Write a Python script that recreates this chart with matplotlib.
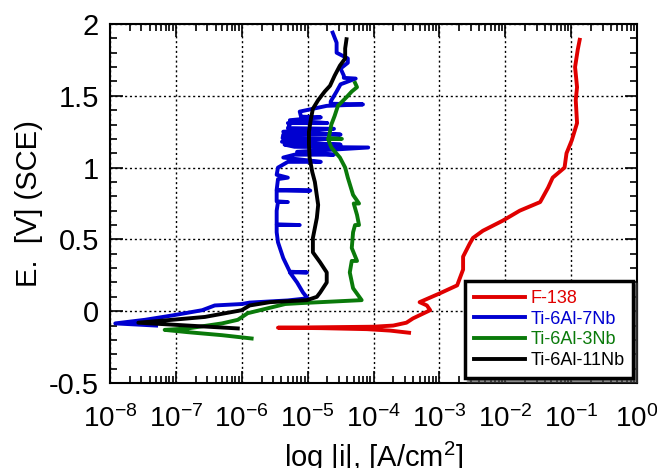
import numpy as np
import matplotlib
matplotlib.use("Agg")
import matplotlib.pyplot as plt
from matplotlib.ticker import LogLocator, MultipleLocator, NullFormatter

plt.rcParams["font.family"] = ["Liberation Sans", "DejaVu Sans"]
plt.rcParams["mathtext.fontset"] = "custom"
plt.rcParams["mathtext.rm"] = "Liberation Sans"
plt.rcParams["mathtext.it"] = "Liberation Sans"

# potential E [V vs SCE] and log10 |i| [A/cm2]
f138_E = [-0.15, -0.135, -0.125, -0.118, -0.115, -0.112, -0.108, -0.10, -0.08, -0.05,
          0.007, 0.04, 0.063, 0.125, 0.18, 0.29, 0.38, 0.47, 0.51, 0.56, 0.63, 0.70,
          0.76, 0.86, 0.93, 1.0, 1.10, 1.19, 1.31, 1.47, 1.56, 1.70, 1.82, 1.89]
f138_logi = [-3.46, -3.75, -4.1, -4.8, -5.45, -4.8, -4.0, -3.7, -3.5, -3.40,
             -3.14, -3.19, -3.30, -2.99, -2.73, -2.64, -2.64, -2.54, -2.49, -2.34, -2.04, -1.78,
             -1.47, -1.35, -1.28, -1.10, -1.07, -0.99, -0.91, -0.93, -0.91, -0.94, -0.90, -0.87]

ti7_E = [-0.10, -0.085, -0.06, -0.03, 0.007, 0.04, 0.05, 0.06, 0.075, 0.09,
         0.13, 0.20, 0.27, 0.27, 0.275, 0.37, 0.48, 0.55, 0.60, 0.60, 0.605, 0.70,
         0.76, 0.76, 0.765, 0.84, 0.84, 0.845, 0.92, 0.93, 0.95, 1.0, 1.04, 1.04,
         1.07, 1.09, 1.09, 1.11, 1.14, 1.145, 1.16, 1.16, 1.18, 1.2, 1.205, 1.23,
         1.23, 1.25, 1.27, 1.275, 1.3, 1.31, 1.31, 1.33, 1.35, 1.355, 1.39, 1.43,
         1.44, 1.445, 1.46, 1.53, 1.58, 1.62, 1.625, 1.64, 1.69, 1.73, 1.76, 1.80,
         1.87, 1.94]
ti7_logi = [-7.3, -7.92, -7.47, -7.06, -6.6, -6.41, -6.0, -5.88, -5.3, -5.0,
            -5.07, -5.16, -5.27, -5.01, -5.27, -5.37, -5.45, -5.47, -5.47, -5.12, -5.47, -5.47,
            -5.45, -5.3, -5.47, -5.47, -4.96, -5.47, -5.45, -5.3, -5.47, -5.45, -5.3, -4.8,
            -5.37, -5.2, -4.6, -5.16, -4.08, -5.2, -5.35, -4.5, -5.39, -4.7, -5.38, -5.37,
            -4.5, -5.37, -4.6, -5.3, -5.27, -5.3, -4.7, -5.27, -4.8, -5.1, -5.12, -4.71,
            -4.16, -4.65, -4.65, -4.56, -4.5, -4.27, -4.45, -4.45, -4.5, -4.39, -4.39, -4.56,
            -4.56, -4.62]

ti3_E = [-0.19, -0.167, -0.146, -0.13, -0.12, -0.085, -0.06, -0.014, 0.05, 0.056,
         0.077, 0.16, 0.27, 0.35, 0.35, 0.44, 0.55, 0.60, 0.60, 0.67, 0.75, 0.75,
         0.81, 0.93, 1.0, 1.07, 1.14, 1.20, 1.20, 1.205, 1.30, 1.36, 1.43, 1.49,
         1.53, 1.56, 1.59]
ti3_logi = [-5.85, -6.3, -6.82, -7.17, -6.82, -6.3, -6.06, -5.91, -5.34, -5.12,
            -4.18, -4.31, -4.36, -4.33, -4.25, -4.33, -4.31, -4.28, -4.22, -4.25, -4.3, -4.22,
            -4.31, -4.39, -4.43, -4.51, -4.64, -4.69, -4.48, -4.68, -4.64, -4.59, -4.54, -4.41,
            -4.33, -4.25, -4.28]

ti11_E = [-0.12, -0.08, -0.06, -0.04, 0.007, 0.04, 0.063, 0.077, 0.10, 0.13,
          0.20, 0.27, 0.34, 0.41, 0.51, 0.65, 0.74, 0.90, 0.97, 1.07, 1.16, 1.25,
          1.34, 1.41, 1.47, 1.53, 1.57, 1.64, 1.71, 1.76, 1.83, 1.894]
ti11_logi = [-6.06, -7.57, -7.06, -6.56, -6.0, -5.88, -5.57, -5.01, -4.86, -4.81,
             -4.71, -4.71, -4.81, -4.92, -4.92, -4.86, -4.84, -4.89, -4.93, -4.97, -4.98, -4.98,
             -4.95, -4.92, -4.84, -4.74, -4.66, -4.59, -4.51, -4.43, -4.43, -4.41]

series = [
    ("F-138", f138_E, f138_logi, "#e00000"),
    ("Ti-6Al-7Nb", ti7_E, ti7_logi, "#0000d0"),
    ("Ti-6Al-3Nb", ti3_E, ti3_logi, "#0a7a0a"),
    ("Ti-6Al-11Nb", ti11_E, ti11_logi, "#000000"),
]

fig = plt.figure(figsize=(6.57, 4.68), dpi=100)
ax = fig.add_axes([110 / 657, 1 - 383 / 468, 527 / 657, 359 / 468])

for label, E, logi, color in series:
    ax.plot(np.power(10.0, logi), E, color=color, lw=2.8, label=label)

ax.set_xscale("log")
ax.set_xlim(1e-8, 1)
ax.set_ylim(-0.5, 2)
ax.xaxis.set_minor_locator(LogLocator(base=10, subs=np.arange(2, 10), numticks=20))
ax.xaxis.set_minor_formatter(NullFormatter())
ax.yaxis.set_minor_locator(MultipleLocator(0.1))
ax.set_yticks([-0.5, 0, 0.5, 1, 1.5, 2], ["-0.5", "0", "0.5", "1", "1.5", "2"])
ax.set_xticks([10.0 ** k for k in range(-8, 1)],
              ["$10^{%d}$" % k for k in range(-8, 1)])
ax.set_xlim(1e-8, 1)

ax.tick_params(which="both", direction="in", top=True, right=True, width=1.2)
ax.tick_params(axis="y", labelsize=21, pad=8)
ax.tick_params(axis="x", labelsize=20, pad=16)
ax.tick_params(which="major", length=9)
ax.tick_params(which="minor", length=5)
for sp in ax.spines.values():
    sp.set_linewidth(1.5)
ax.grid(True, which="major", linestyle=(0, (1.5, 2)), color="black", lw=1)

ax.set_xlabel("log |i|, [A/cm$^{2}$]", fontsize=21, labelpad=5)
ax.set_ylabel("E.  [V] (SCE)", fontsize=21, labelpad=4)

leg = ax.legend(loc="lower left", bbox_to_anchor=(0.674, 0.014), borderaxespad=0,
                fontsize=13, frameon=True, fancybox=False, shadow=True,
                handlelength=2.8, borderpad=0.5, labelspacing=0.2, handletextpad=0.3)
leg.get_frame().set_edgecolor("black")
leg.get_frame().set_linewidth(2.5)
for txt, (_, _, _, color) in zip(leg.get_texts(), series):
    txt.set_color(color)

fig.savefig("out.png", dpi=100)
